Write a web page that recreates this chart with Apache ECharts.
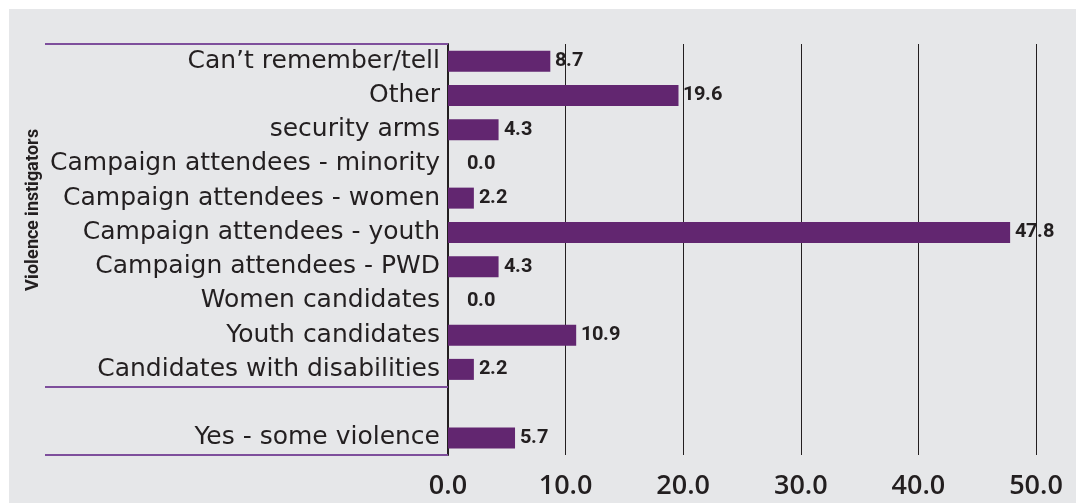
<!DOCTYPE html>
<html>
<head>
<meta charset="utf-8">
<script src="https://cdn.jsdelivr.net/npm/echarts@6/dist/echarts.min.js"></script>
<style>
  html, body { margin: 0; padding: 0; background: #ffffff; }
  #chart { position: absolute; left: 9px; top: 9px; width: 1067px; height: 494px; background: #e6e7e9; }
  @font-face {
    font-family: "CondBold";
    font-weight: bold;
    src: local("Noto Sans ExtraCondensed Bold"), local("NotoSans-ExtraCondensedBold"),
         local("Noto Sans Condensed Bold"), local("NotoSans-CondensedBold"),
         local("Roboto Condensed Bold"), local("RobotoCondensed-Bold"),
         local("Liberation Sans Narrow Bold"), local("LiberationSansNarrow-Bold"),
         local("DejaVu Sans Condensed Bold"), local("DejaVuSansCondensed-Bold");
  }
</style>
</head>
<body>
<div id="chart"></div>
<script>
// Violence instigators, share of respondents (%)
const categories = [
  'Can\u2019t remember/tell',
  'Other',
  'security arms',
  'Campaign attendees - minority',
  'Campaign attendees - women',
  'Campaign attendees - youth',
  'Campaign attendees - PWD',
  'Women candidates',
  'Youth candidates',
  'Candidates with disabilities',
  '',
  'Yes - some violence'
];
const values = [8.7, 19.6, 4.3, 0.0, 2.2, 47.8, 4.3, 0.0, 10.9, 2.2, null, 5.7];
const xTicks = [0, 10, 20, 30, 40, 50];
const axisTitle = 'Violence instigators';

// category indices whose upper boundary gets a separator rule
const separatorsBefore = [0, 10];

const INK = '#231f20';
const BAR = '#622670';
const RULE = '#7e4f9c';
const NARROW = '"CondBold", "DejaVu Sans", sans-serif';
const BODY = '"DejaVu Sans", "Open Sans", sans-serif';
const TICKS = '"Open Sans", "Noto Sans", sans-serif';

function draw() {
  const chart = echarts.init(document.getElementById('chart'), null, { renderer: 'canvas' });

  const barData = values.map(v => {
    if (v === null) return { value: null, label: { show: false } };
    if (v === 0) return { value: v, label: { distance: 19 } };
    return { value: v };
  });

  chart.setOption({
    animation: false,
    grid: { left: 439, top: 35, right: 40, bottom: 48, containLabel: false },
    xAxis: {
      type: 'value',
      min: xTicks[0],
      max: xTicks[xTicks.length - 1],
      interval: xTicks[1] - xTicks[0],
      axisLine: { show: false },
      axisTick: { show: false },
      splitLine: { show: true, lineStyle: { color: INK, width: 1 } },
      axisLabel: {
        margin: 18,
        color: INK,
        fontFamily: TICKS,
        fontWeight: 600,
        fontSize: 27,
        formatter: v => v.toFixed(1)
      }
    },
    yAxis: {
      type: 'category',
      inverse: true,
      data: categories,
      axisLine: { show: true, lineStyle: { color: INK, width: 2 } },
      axisTick: {
        show: true,
        length: 403,
        interval: idx => separatorsBefore.indexOf(idx) !== -1,
        lineStyle: { color: RULE, width: 2 }
      },
      axisLabel: {
        margin: 8,
        color: INK,
        fontFamily: BODY,
        fontSize: 25,
        interval: 0
      },
      splitLine: { show: false }
    },
    graphic: [{
      type: 'text',
      x: 24,
      y: 201,
      rotation: Math.PI / 2,
      style: {
        text: axisTitle,
        fill: INK,
        font: 'bold 18px ' + NARROW,
        align: 'center',
        verticalAlign: 'middle'
      }
    }],
    series: [{
      type: 'bar',
      data: barData,
      barWidth: 21,
      itemStyle: { color: BAR },
      label: {
        show: true,
        position: 'right',
        distance: 5,
        color: INK,
        fontFamily: NARROW,
        fontWeight: 'bold',
        fontSize: 20,
        formatter: p => (p.value == null ? '' : Number(p.value).toFixed(1))
      }
    }]
  });
}

// wait for the condensed face before painting the canvas
Promise.all([
  document.fonts.load('bold 20px CondBold'),
  document.fonts.load('25px "DejaVu Sans"'),
  document.fonts.load('600 27px "Open Sans"')
]).then(draw, draw);
</script>
</body>
</html>
